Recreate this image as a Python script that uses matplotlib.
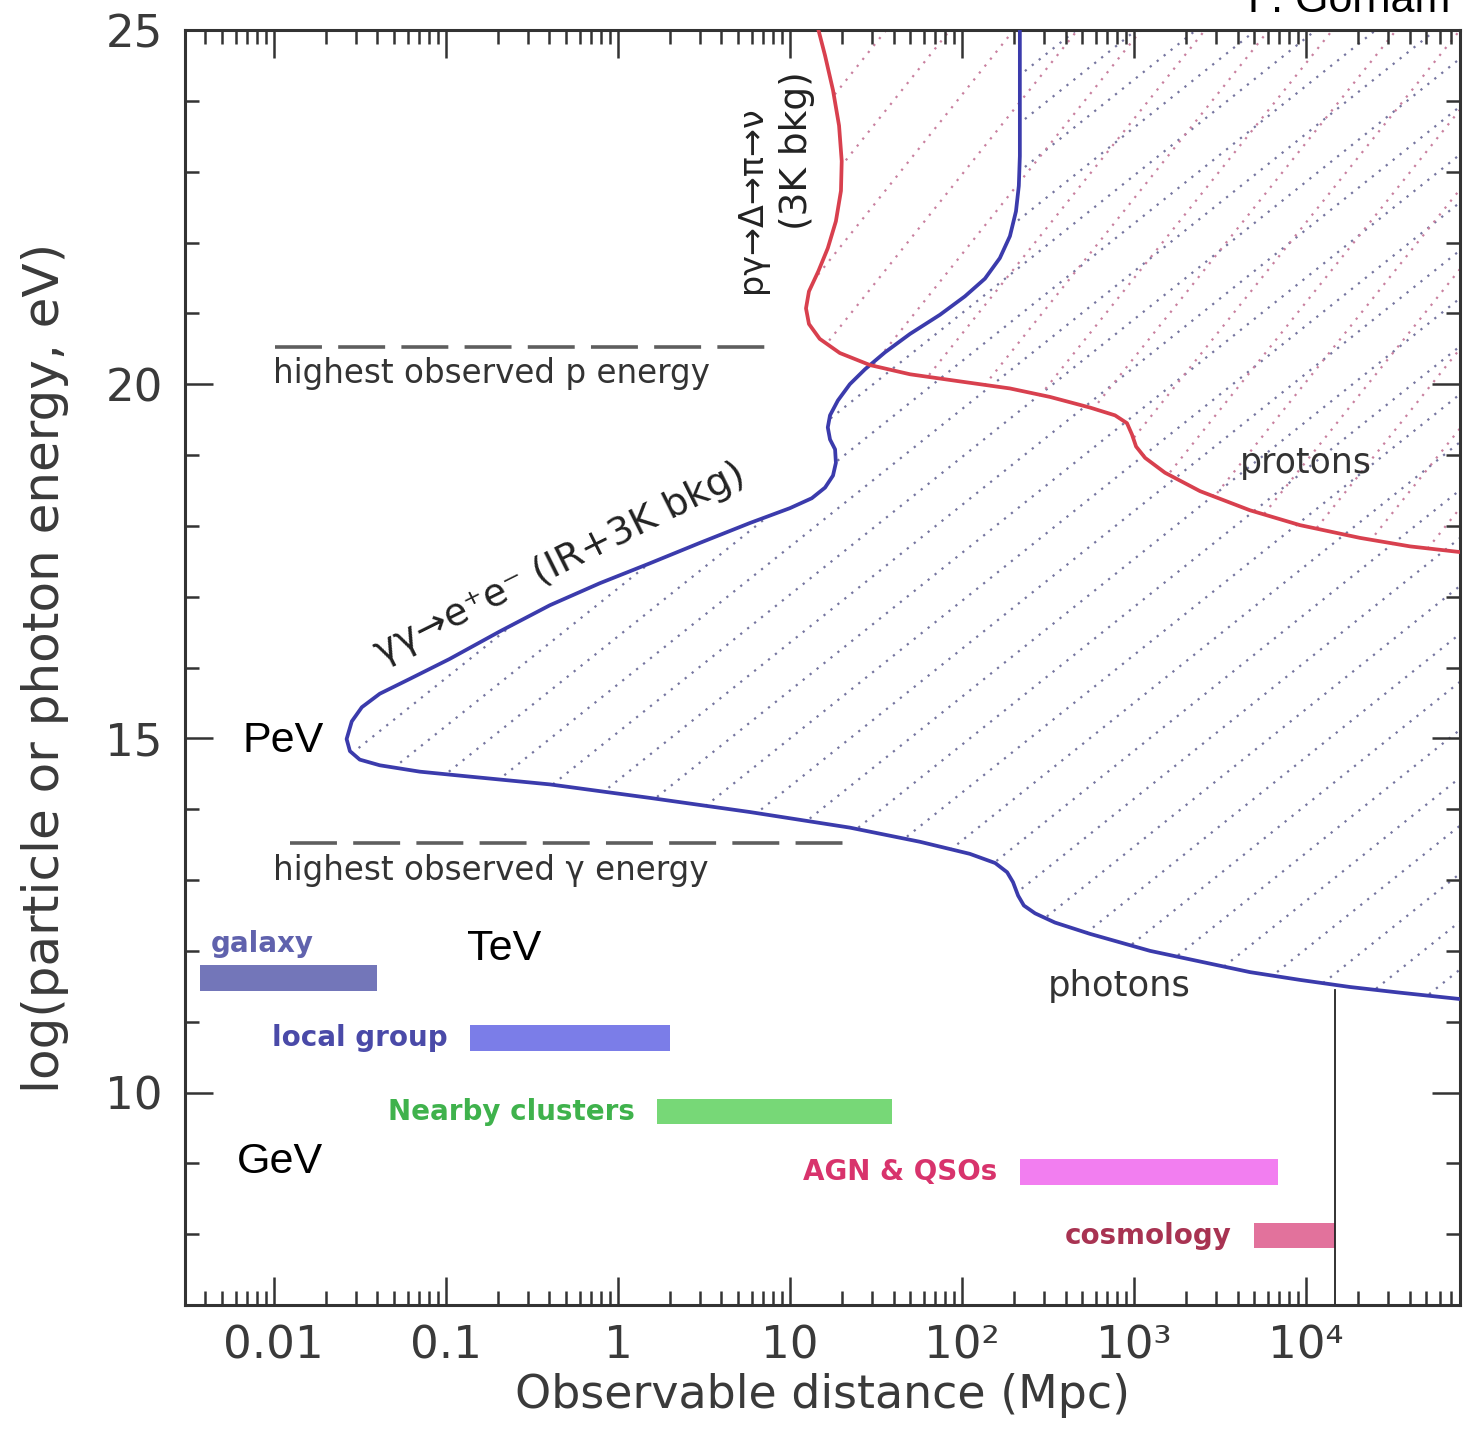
import matplotlib
matplotlib.use('Agg')
import matplotlib.pyplot as plt
import numpy as np
from matplotlib.patches import Polygon
from matplotlib.ticker import FixedLocator, FixedFormatter, LogLocator, NullFormatter, MultipleLocator

# photon horizon: gamma gamma -> e+ e-  (distance in Mpc, log10 energy in eV)
photon_dist = [217, 217, 214, 206, 190, 166, 136, 104, 74.5, 49.9, 35.7, 27.3, 22.3, 19.0,
               17.1, 16.6, 17.1, 18.3, 18.5, 17.8, 16.0, 13.4, 10.0, 5.85, 3.0, 1.53,
               0.785, 0.403, 0.206, 0.105, 0.0618, 0.0413, 0.0325, 0.0284, 0.0265,
               0.0277, 0.0316, 0.0413, 0.0706, 0.138, 0.403, 1.53, 5.85, 22.3, 57.0,
               111, 156, 183, 198, 212, 229, 266, 347, 555, 1240, 2420, 4720, 9230,
               18000, 35200, 78500]
photon_logE = [25.0, 23.22, 22.80, 22.44, 22.09, 21.78, 21.49, 21.24, 20.98, 20.71, 20.45,
               20.21, 20.00, 19.77, 19.56, 19.39, 19.22, 19.08, 18.89, 18.71, 18.54, 18.39,
               18.25, 18.04, 17.76, 17.47, 17.19, 16.88, 16.51, 16.12, 15.84, 15.63, 15.44,
               15.24, 14.99, 14.82, 14.70, 14.62, 14.53, 14.46, 14.35, 14.16, 13.96, 13.74,
               13.54, 13.37, 13.24, 13.11, 12.97, 12.78, 12.64, 12.53, 12.40, 12.24, 12.00,
               11.85, 11.70, 11.59, 11.49, 11.41, 11.32]

# proton horizon: p gamma -> Delta -> pi -> nu
proton_dist = [14.4, 16.0, 17.8, 19.3, 20.0, 19.8, 18.5, 16.6, 14.6, 12.9, 12.4, 12.9, 14.9,
               19.5, 29.2, 49.9, 97, 190, 325, 555, 776, 910, 973, 1028, 1160, 1514, 2420,
               4720, 9230, 20600, 40300, 78500]
proton_logE = [25.07, 24.64, 24.15, 23.65, 23.15, 22.73, 22.30, 21.92, 21.59, 21.31, 21.07,
               20.85, 20.64, 20.44, 20.27, 20.14, 20.04, 19.94, 19.82, 19.67, 19.56, 19.45,
               19.29, 19.12, 18.96, 18.75, 18.49, 18.22, 18.01, 17.83, 17.71, 17.63]

# source distance bands
source_names = ['galaxy', 'local group', 'Nearby clusters', 'AGN & QSOs', 'cosmology']
source_dmin = [0.0037, 0.138, 1.69, 217, 5000]
source_dmax = [0.040, 2.0, 39, 6900, 14800]
source_logE = [11.62, 10.77, 9.73, 8.88, 7.98]
bar_colors = ['#7376b9', '#7b7de8', '#77d877', '#f27ef0', '#e2729c']
text_colors = ['#6062ad', '#4a4aa8', '#3fb24c', '#d8336c', '#a83352']

# highest observed energies
p_max_logE = 20.53
p_line = [0.0102, 8.6]
g_max_logE = 13.52
g_line = [0.0124, 24.8]

# horizon line
hubble_dist = 14800
hubble_top = 11.45

xticks = [0.01, 0.1, 1, 10, 100, 1000, 10000]
xticklabels = ['0.01', '0.1', '1', '10', '10²', '10³', '10⁴']
yticks = [10, 15, 20, 25]

plt.rcParams['font.family'] = ['DejaVu Sans']

fig = plt.figure(figsize=(14.77, 14.43), dpi=100)
ax = fig.add_axes([0.1253, 0.0956, 0.8632, 0.8836])
ax.set_xscale('log')
ax.set_xlim(3.05e-3, 7.85e4)
ax.set_ylim(7, 25)


def hatch(verts, color, slope, step):
    poly = Polygon(verts, closed=True, transform=ax.transData,
                   facecolor='none', edgecolor='none')
    ax.add_patch(poly)
    for c in np.arange(-slope - step, 1 + step, step):
        ln, = ax.plot([0, 1], [c, c + slope], transform=ax.transAxes,
                      ls=(0, (1, 3)), color=color, lw=1.6, zorder=1)
        ln.set_clip_path(poly)


# shaded (absorbed) regions
blue_verts = list(zip(photon_dist, photon_logE)) + [(1e6, photon_logE[-1]), (1e6, 26), (photon_dist[0], 26)]
hatch(blue_verts, '#75759f', 0.8, 0.8 * 0.047)
red_verts = list(zip(proton_dist, proton_logE)) + [(1e6, proton_logE[-1]), (1e6, 26), (proton_dist[0], 26)]
hatch(red_verts, '#c9809f', 1.25, 1.25 * 0.05)

ax.plot(photon_dist, photon_logE, color='#3b3bac', lw=2.7, zorder=3, solid_joinstyle='round')
ax.plot(proton_dist, proton_logE, color='#d8404e', lw=2.7, zorder=3, solid_joinstyle='round')

# highest observed energy lines
ax.plot(p_line, [p_max_logE] * 2, color='#5e5e5e', lw=2.6, dashes=(13, 4.5))
ax.plot(g_line, [g_max_logE] * 2, color='#5e5e5e', lw=2.6, dashes=(13, 4.5))
ax.text(0.0099, 20.15, 'highest observed p energy', fontsize=23.5, color='#333333',
        ha='left', va='center')
ax.text(0.0099, 13.13, 'highest observed γ energy', fontsize=23.5, color='#333333',
        ha='left', va='center')

# source bands
ax.barh(source_logE, np.array(source_dmax) - np.array(source_dmin), left=source_dmin,
        height=0.36, color=bar_colors, zorder=2)
for i, name in enumerate(source_names):
    if i == 0:
        ax.annotate(name, xy=(source_dmin[i], source_logE[i]), xytext=(8, 24),
                    textcoords='offset points', ha='left', va='center',
                    fontsize=20, fontweight='bold', color=text_colors[i])
    else:
        ax.annotate(name, xy=(source_dmin[i], source_logE[i]), xytext=(-16, 0),
                    textcoords='offset points', ha='right', va='center',
                    fontsize=20, fontweight='bold', color=text_colors[i])

ax.plot([hubble_dist, hubble_dist], [7, hubble_top], color='#222222', lw=1.3)

# curve labels
ax.text(0.46, 17.47, 'γγ→e⁺e⁻ (IR+3K bkg)', rotation=26.5, fontsize=27.5, color='#222222',
        ha='center', va='center', rotation_mode='anchor')
ax.text(6.0, 22.61, 'pγ→Δ→π→ν', rotation=90, fontsize=24, color='#222222',
        ha='center', va='center')
ax.text(11.0, 23.3, '(3K bkg)', rotation=90, fontsize=27, color='#222222',
        ha='center', va='center')
ax.text(4130, 18.89, 'protons', fontsize=25, color='#333333', ha='left', va='center')
ax.text(316, 11.51, 'photons', fontsize=25.5, color='#333333', ha='left', va='center')

# energy scale marks
for lab, xx, yy in [('PeV', 0.0066, 14.96), ('TeV', 0.132, 12.03), ('GeV', 0.0061, 9.02)]:
    ax.text(xx, yy, lab, fontsize=31, color='black', ha='left', va='center',
            family='Liberation Sans')

fig.text(0.982, 0.9917, 'P. Gorham', fontsize=31, color='black', ha='right',
         va='baseline', family='Liberation Sans')

# axes styling
ax.xaxis.set_major_locator(FixedLocator(xticks))
ax.xaxis.set_major_formatter(FixedFormatter(xticklabels))
ax.xaxis.set_minor_locator(LogLocator(base=10, subs=np.arange(2, 10), numticks=20))
ax.xaxis.set_minor_formatter(NullFormatter())
ax.yaxis.set_major_locator(FixedLocator(yticks))
ax.yaxis.set_minor_locator(MultipleLocator(1))
ax.tick_params(which='both', direction='in', top=True, right=True, color='#333333',
               width=1.8, labelsize=32.5, labelcolor='#3a3a3a')
ax.tick_params(which='major', length=20)
ax.tick_params(which='minor', length=10)
ax.tick_params(axis='x', pad=14)
ax.tick_params(axis='y', pad=16)
for s in ax.spines.values():
    s.set_linewidth(2.2)
    s.set_color('#333333')

ax.set_xlabel('Observable distance (Mpc)', fontsize=33, color='#3a3a3a', labelpad=4)
ax.set_ylabel('log(particle or photon energy, eV)', fontsize=36, color='#3a3a3a', labelpad=26)

fig.savefig('out.png', dpi=100)
